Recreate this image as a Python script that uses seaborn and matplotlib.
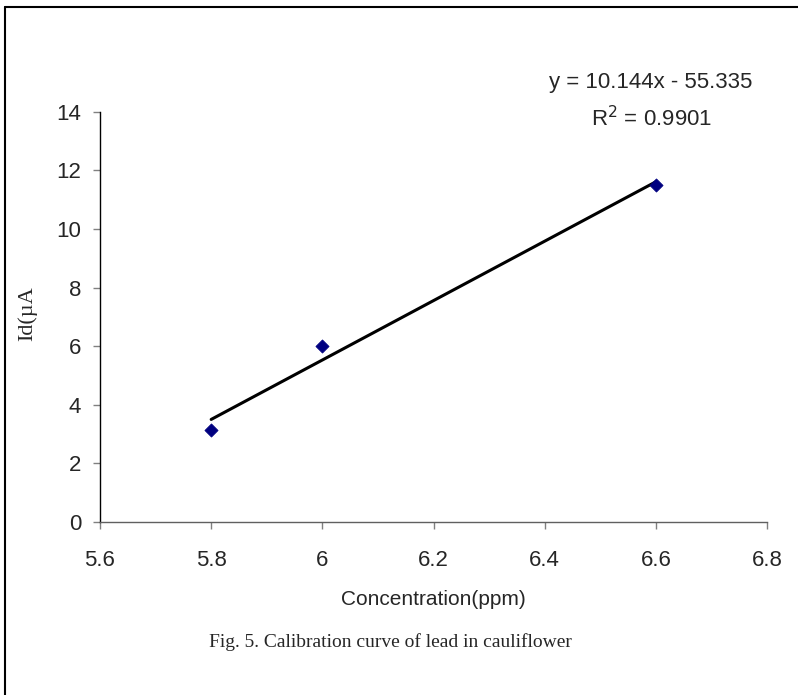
import matplotlib
matplotlib.use("Agg")
import matplotlib.pyplot as plt
import seaborn as sns
import numpy as np
import pandas as pd
from matplotlib.lines import Line2D

# Data
concentration = [5.8, 6.0, 6.6]
current = [3.15, 6.0, 11.5]
slope = 10.144
intercept = -55.335
x_ticks = [5.6, 5.8, 6.0, 6.2, 6.4, 6.6, 6.8]
x_tick_labels = ["5.6", "5.8", "6", "6.2", "6.4", "6.6", "6.8"]
y_ticks = [0, 2, 4, 6, 8, 10, 12, 14]

df = pd.DataFrame({"x": concentration, "y": current})
fit_x = [min(concentration), max(concentration)]
fit_df = pd.DataFrame({"x": fit_x, "y": [slope * v + intercept for v in fit_x]})

sns.set_style("white")
plt.rcParams['font.family'] = ['Liberation Sans', 'DejaVu Sans']

fig = plt.figure(figsize=(7.98, 6.95), dpi=100)
ax = fig.add_axes([0.1253, 0.249, 0.836, 0.590])

sns.lineplot(data=fit_df, x="x", y="y", ax=ax, color="black", linewidth=2.2)
sns.scatterplot(data=df, x="x", y="y", ax=ax, marker="D", s=45, color="#000080",
                edgecolor="#000080", zorder=5)

ax.set_xlim(5.6, 6.8)
ax.set_ylim(0, 14)
ax.set_xticks(x_ticks)
ax.set_xticklabels(x_tick_labels, fontsize=16)
ax.set_yticks(y_ticks)
ax.set_yticklabels([str(v) for v in y_ticks], fontsize=16)
ax.tick_params(axis="x", direction="out", length=5, width=1, color="#808080",
               pad=15, bottom=True)
ax.tick_params(axis="y", direction="out", length=5, width=1, color="#808080",
               pad=8.5, left=True)
for s in ["top", "right"]:
    ax.spines[s].set_visible(False)
ax.spines["left"].set_color("black")
ax.spines["bottom"].set_color("#606060")
ax.spines["left"].set_linewidth(1)
ax.spines["bottom"].set_linewidth(1)
ax.grid(False)

ax.set_xlabel("Concentration(ppm)", fontsize=15, labelpad=14)
ax.set_ylabel("")
fig.text(27 / 798, 1 - 314 / 695, "Id(µA", fontsize=16, rotation=90,
         family=["Liberation Serif", "DejaVu Serif"], ha="center", va="center")

fig.text(0.816, 0.8806, "y = 10.144x - 55.335", fontsize=16, ha="center", va="center")
fig.text(0.816, 0.830, "R$^2$ = 0.9901", fontsize=16, ha="center", va="center")

fig.text(0.489, 0.0763, "Fig. 5. Calibration curve of lead in cauliflower", fontsize=14,
         family=["Liberation Serif", "DejaVu Serif"], ha="center", va="center")

# Outer frame: only top and left edges are visible in the reference
top_y = 1 - 6.5 / 695
left_x = 5 / 798
fig.add_artist(Line2D([left_x, 1.0], [top_y, top_y], transform=fig.transFigure,
                      color="black", linewidth=1.5))
fig.add_artist(Line2D([left_x, left_x], [0.0, top_y], transform=fig.transFigure,
                      color="black", linewidth=1.5))

fig.savefig("out.png", dpi=100)
